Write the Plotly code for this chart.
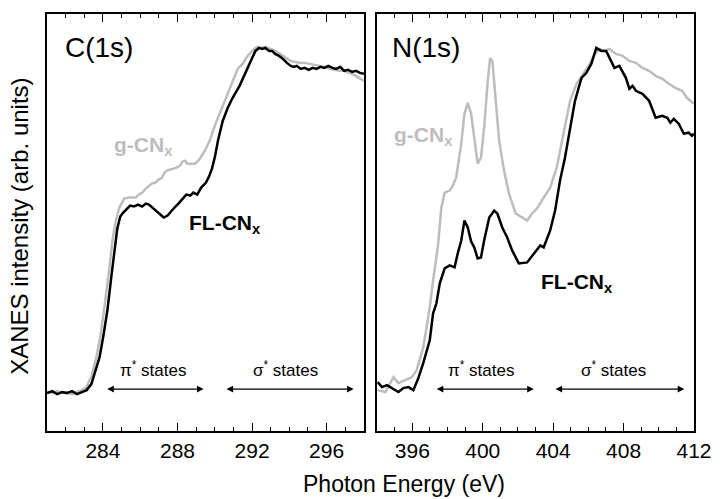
import plotly.graph_objects as go

# ---------------- data ----------------
# C(1s) panel
c_fl_e = [281.00, 281.28, 281.54, 281.81, 282.07, 282.34, 282.60, 282.87, 283.13, 283.38,
          283.61, 283.82, 284.03, 284.24, 284.46, 284.61, 284.77, 284.93, 285.09, 285.30,
          285.46, 285.67, 285.88, 286.10, 286.31, 286.47, 286.73, 287.00, 287.26, 287.47,
          287.63, 287.84, 288.05, 288.31, 288.47, 288.69, 288.85, 289.06, 289.27, 289.53,
          289.69, 289.85, 290.01, 290.17, 290.43, 290.70, 290.96, 291.33, 291.65, 291.92,
          292.18, 292.38, 292.55, 292.71, 292.92, 293.08, 293.24, 293.45, 293.66, 293.87,
          294.08, 294.24, 294.40, 294.61, 294.82, 295.04, 295.25, 295.46, 295.67, 295.88,
          296.09, 296.31, 296.52, 296.73, 296.94, 297.15, 297.37, 297.58, 297.79, 298.00]
c_fl_i = [38, 40, 37, 39, 38, 40, 37, 39, 41, 47,
          61, 74, 96, 121, 156, 181, 203, 215, 219, 223,
          226, 225, 227, 225, 228, 227, 223, 218, 214, 216,
          219, 224, 228, 234, 237, 236, 239, 237, 244, 249,
          255, 263, 275, 291, 311, 324, 334, 346, 359, 369,
          381, 384, 383, 384, 381, 381, 378, 376, 373, 369,
          366, 365, 366, 363, 364, 362, 364, 363, 365, 364,
          366, 364, 363, 365, 361, 362, 360, 361, 359, 358]

c_g_e = [281.00, 281.28, 281.54, 281.81, 282.07, 282.34, 282.60, 282.87, 283.12, 283.40,
         283.65, 283.87, 284.08, 284.24, 284.35, 284.51, 284.67, 284.88, 285.14, 285.41,
         285.76, 285.93, 286.11, 286.30, 286.47, 286.62, 286.82, 286.99, 287.17, 287.31,
         287.43, 287.63, 287.79, 287.95, 288.14, 288.26, 288.41, 288.53, 288.67, 288.94,
         289.06, 289.20, 289.47, 289.73, 290.00, 290.26, 290.52, 290.79, 291.05, 291.23,
         291.33, 291.49, 291.76, 291.92, 292.11, 292.29, 292.46, 292.71, 292.99, 293.24,
         293.52, 293.77, 294.05, 294.30, 294.58, 294.83, 295.11, 295.35, 295.63, 295.88,
         296.16, 296.41, 296.69, 296.94, 297.22, 297.47, 297.74, 298.00]
c_g_i = [39, 38, 40, 38, 39, 37, 39, 41, 44, 56,
         74, 96, 124, 146, 164, 191, 209, 224, 233, 234,
         234, 237, 239, 243, 246, 248, 249, 252, 254, 259,
         261, 262, 263, 264, 266, 270, 271, 268, 268, 268,
         270, 273, 281, 291, 306, 318, 331, 343, 356, 363,
         365, 368, 376, 379, 383, 385, 384, 385, 383, 381,
         378, 375, 371, 370, 369, 369, 368, 367, 366, 365,
         363, 362, 361, 361, 359, 357, 354, 351]

# N(1s) panel
n_fl_e = [394.03, 394.28, 394.56, 394.84, 395.21, 395.49, 395.78, 396.06, 396.34, 396.62,
          396.99, 397.18, 397.37, 397.56, 397.84, 398.12, 398.40, 398.58, 398.78, 398.96,
          399.15, 399.34, 399.52, 399.71, 399.90, 400.08, 400.37, 400.65, 400.83, 401.11,
          401.39, 401.67, 402.05, 402.52, 402.89, 403.27, 403.46, 403.83, 404.11, 404.39,
          404.67, 404.96, 405.24, 405.61, 405.89, 406.17, 406.45, 406.73, 407.01, 407.20,
          407.48, 407.76, 408.13, 408.33, 408.51, 408.70, 409.07, 409.45, 409.82, 410.20,
          410.48, 410.66, 410.85, 411.13, 411.42, 411.70, 411.88, 412.00]
n_fl_i = [49, 44, 46, 43, 39, 43, 44, 41, 53, 68,
          91, 118, 128, 148, 163, 166, 164, 178, 191, 211,
          204, 190, 184, 173, 174, 191, 214, 221, 218, 204,
          194, 181, 168, 169, 178, 186, 184, 201, 221, 251,
          274, 304, 331, 354, 359, 368, 384, 381, 381, 374,
          364, 366, 354, 343, 346, 341, 338, 331, 314, 316,
          314, 309, 313, 308, 298, 299, 296, 298]

n_g_e = [394.03, 394.47, 394.93, 395.21, 395.59, 395.97, 396.25, 396.43, 396.62, 396.81,
         396.99, 397.18, 397.37, 397.46, 397.65, 397.84, 398.12, 398.30, 398.49, 398.78,
         398.96, 399.15, 399.34, 399.52, 399.71, 399.90, 400.08, 400.27, 400.42, 400.55,
         400.74, 400.93, 401.21, 401.49, 401.87, 402.24, 402.52, 402.80, 403.08, 403.46,
         403.83, 404.20, 404.58, 404.96, 405.33, 405.70, 406.08, 406.36, 406.64, 406.92,
         407.20, 407.57, 407.95, 408.33, 408.70, 409.07, 409.45, 409.82, 410.20, 410.57,
         410.94, 411.32, 411.60, 412.00]
n_g_i = [41, 39, 54, 48, 51, 54, 61, 71, 84, 104,
         124, 151, 178, 186, 224, 239, 241, 246, 254, 288,
         318, 329, 318, 291, 268, 274, 304, 348, 374, 371,
         331, 291, 261, 238, 218, 214, 211, 218, 223, 234,
         244, 264, 298, 331, 348, 358, 368, 378, 383, 381,
         383, 378, 376, 371, 369, 364, 361, 356, 353, 348,
         344, 341, 334, 328]

# arrow spans (eV)
c_pi_span = [284.15, 289.40]
c_sigma_span = [290.55, 297.45]
n_pi_span = [397.30, 402.90]
n_sigma_span = [404.05, 411.45]

# tick values (eV)
c_major = [284, 288, 292, 296]
n_major = [396, 400, 404, 408, 412]
minor_step = 1

Y_RANGE = [0, 418]

FONT = "Liberation Sans, Arial, sans-serif"
GRAY = "#bdbdbd"

fig = go.Figure()
fig.add_trace(go.Scatter(x=c_g_e, y=c_g_i, mode="lines", line=dict(color=GRAY, width=2.5),
                         xaxis="x", yaxis="y", showlegend=False))
fig.add_trace(go.Scatter(x=c_fl_e, y=c_fl_i, mode="lines", line=dict(color="black", width=2.5),
                         xaxis="x", yaxis="y", showlegend=False))
fig.add_trace(go.Scatter(x=n_g_e, y=n_g_i, mode="lines", line=dict(color=GRAY, width=2.5),
                         xaxis="x2", yaxis="y2", showlegend=False))
fig.add_trace(go.Scatter(x=n_fl_e, y=n_fl_i, mode="lines", line=dict(color="black", width=2.5),
                         xaxis="x2", yaxis="y2", showlegend=False))

W, H = 724, 499
L, R, T, B = 47, 703, 13, 431
pw = R - L
d1 = (368.3 - L) / pw
d2 = (381.7 - L) / pw


def xaxis_cfg(domain, rng, vals, anchor):
    return dict(domain=domain, range=rng, anchor=anchor,
                showline=True, linecolor="black", linewidth=1.5, mirror="ticks",
                tickmode="linear", tick0=vals[0], dtick=vals[1] - vals[0],
                ticks="inside", ticklen=8, tickwidth=1.4, tickcolor="black",
                minor=dict(ticks="inside", ticklen=4, tick0=vals[0], dtick=minor_step,
                           tickwidth=1.3, tickcolor="black"),
                showgrid=False, zeroline=False,
                tickfont=dict(family=FONT, size=21, color="black"))


yax = dict(showline=True, linecolor="black", linewidth=1.5, mirror=True,
           showticklabels=False, showgrid=False, zeroline=False, range=Y_RANGE)

fig.update_layout(
    width=W, height=H,
    margin=dict(l=L, r=W - R, t=T, b=H - B, pad=0),
    paper_bgcolor="white", plot_bgcolor="white",
    xaxis=xaxis_cfg([0, d1], [281, 298], c_major, "y"),
    yaxis=dict(yax, domain=[0, 1], anchor="x"),
    xaxis2=xaxis_cfg([d2, 1], [394, 412], n_major, "y2"),
    yaxis2=dict(yax, domain=[0, 1], anchor="x2"),
)

ann = []


def arrow(xr, yr, span, yv):
    ann.append(dict(xref=xr, yref=yr, axref=xr, ayref=yr, x=span[1], y=yv, ax=span[0], ay=yv,
                    text="", showarrow=True, arrowhead=2, arrowside="end+start",
                    arrowsize=1.1, arrowwidth=1.2, arrowcolor="black", standoff=0, startstandoff=0))


arrow("x", "y", c_pi_span, 42)
arrow("x", "y", c_sigma_span, 42)
arrow("x2", "y2", n_pi_span, 42)
arrow("x2", "y2", n_sigma_span, 42)


def txt(xr, yr, x, y, t, size, color="black", xanchor="center", yanchor="middle"):
    ann.append(dict(xref=xr, yref=yr, x=x, y=y, text=t, showarrow=False,
                    xanchor=xanchor, yanchor=yanchor,
                    font=dict(family=FONT, size=size, color=color)))


txt("x", "y", sum(c_pi_span) / 2 - 0.1, 62, "π<sup>*</sup> states", 17)
txt("x", "y", sum(c_sigma_span) / 2 - 0.2, 62, "σ<sup>*</sup> states", 17)
txt("x2", "y2", sum(n_pi_span) / 2 - 0.2, 62, "π<sup>*</sup> states", 17)
txt("x2", "y2", sum(n_sigma_span) / 2 - 0.3, 62, "σ<sup>*</sup> states", 17)

txt("x", "y", 281.86, 384, "C(1s)", 28, xanchor="left")
txt("x2", "y2", 394.75, 384, "N(1s)", 28, xanchor="left")
txt("x", "y", 284.5, 286, "<b>g-CN<sub>x</sub></b>", 21, color=GRAY, xanchor="left")
txt("x2", "y2", 394.84, 296, "<b>g-CN<sub>x</sub></b>", 21, color=GRAY, xanchor="left")
txt("x", "y", 288.49, 208, "<b>FL-CN<sub>x</sub></b>", 21, xanchor="left")
txt("x2", "y2", 403.18, 148, "<b>FL-CN<sub>x</sub></b>", 21, xanchor="left")

# axis titles
txt("paper", "paper", (409 - L) / pw, (B - 484) / (B - T), "Photon Energy (eV)", 23)
ann.append(dict(xref="paper", yref="paper", x=(19 - L) / pw, y=(B - 226) / (B - T),
                text="XANES intensity (arb. units)", textangle=-90, showarrow=False,
                xanchor="center", yanchor="middle",
                font=dict(family=FONT, size=24, color="black")))

fig.update_layout(annotations=ann)
fig.write_html("out.html")
